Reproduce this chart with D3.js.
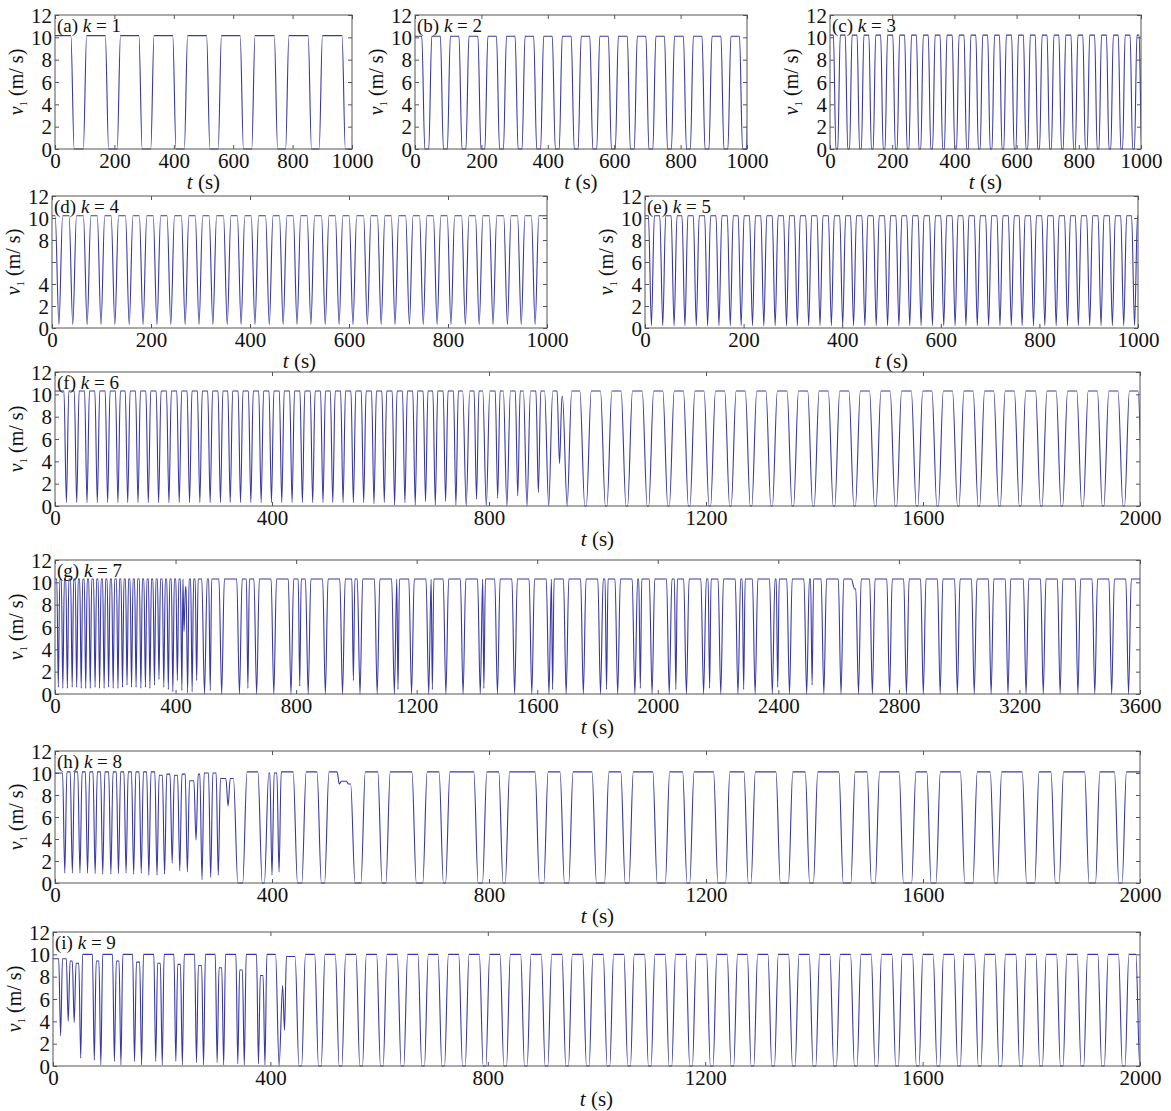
<!DOCTYPE html>
<html lang="en">
<head>
<meta charset="UTF-8">
<title>v1(t) for k = 1 ... 9</title>
<script src="https://d3js.org/d3.v7.min.js"></script>
<style>
  body { margin: 0; background: #fff; }
  svg text { font-family: "Liberation Serif", "Times New Roman", serif; fill: #111; }
</style>
</head>
<body>
<svg id="chart" width="1171" height="1111"></svg>
<script>
// tick values / labels
const yTicks = [0, 2, 4, 6, 8, 10, 12];
const yLabels = ["0", "2", "4", "6", "8", "10", "12"];
const yLabelsD = ["0", "2", "4", "", "8", "10", "12"];   // (d) has no "6"
const tTicks1000 = [0, 200, 400, 600, 800, 1000];
const tTicks2000 = [0, 400, 800, 1200, 1600, 2000];
const tTicks3600 = [0, 400, 800, 1200, 1600, 2000, 2400, 2800, 3200, 3600];

// each trough: [fall time, rise time, lowest v, v of the plateau after it]
// (fall == rise means a V shaped dip)
const troughsA = [[59,101,0],[175,215,0],[288,328,0],[402,441,0],[516,555,0],[629,668,0],[744,782,0],[858,895,0],[972,1010,0]];

const troughsB = [[25,46,0],[81,102,0],[137,158,0],[194,215,0],[250,271,0],[306,327,0],[362,383,0],[418,439,0],[475,496,0],
  [531,552,0],[587,608,0],[644,665,0],[700,721,0],[756,777,0],[813,834,0],[869,890,0],[926,947,0],[982,1003,0]];

const troughsC = [[15,29,0],[53,67,0],[91,105,0],[129,143,0],[167,181,0],[206,220,0],[244,258,0],[282,296,0],[320,334,0],
  [358,372,0],[397,411,0],[435,449,0],[473,487,0],[511,525,0],[549,563,0],[588,602,0],[626,640,0],[664,678,0],[702,716,0],
  [740,754,0],[779,793,0],[817,831,0],[855,869,0],[893,907,0],[931,945,0],[969,983,0],[998,1012,0]];

const troughsD = [14,42,71,99,127,156,184,212,240,269,297,325,354,382,410,439,467,495,523,552,580,608,637,665,693,722,
  750,778,806,835,863,891,920,948,976].map(t => [t, t, 0.3]);

const troughsE = [13,36,59,81,104,127,150,173,195,218,241,264,287,309,332,355,378,401,423,446,469,492,515,537,560,583,
  606,629,651,674,697,720,743,765,788,811,834,857,879,902,925,948,971,993].map(t => [t, t, 0.2]);

const troughsF = [[21,21,0.3],[40,40,0.3],[59,59,0.3],[78,78,0.3],[97,97,0.3],[116,116,0.3],[134,134,0.3],[153,153,0.3],
  [172,172,0.3],[191,191,0.3],[210,210,0.3],[229,229,0.3],[248,248,0.3],[267,267,0.3],[286,286,0.3],[305,305,0.3],
  [323,323,0.3],[342,342,0.3],[361,361,0.3],[380,380,0.3],[399,399,0.3],[418,418,0.3],[437,437,0.3],[456,456,0.3],
  [475,475,0.3],[494,494,0.3],[512,512,0.3],[531,531,0.3],[550,550,0.3],[569,569,0.3],[588,588,0.2],[607,607,0.3],
  [626,626,0.1],[645,645,0.3],[664,664,0.1],[683,683,0.4],[701,701,0.1],[720,720,0.4],[739,739,0.1],[756,760,0],
  [777,777,0.6],[793,797,0],[816,816,0.7],[831,835,0],[853,853,0.9],[868,872,0],[891,891,1.2],[907,913,0],
  [930,930,3.8,9.8],[940,948,0],[972,984,0],[1010,1022,0],[1048,1060,0],[1087,1099,0],[1125,1137,0],[1163,1175,0],
  [1201,1213,0],[1239,1251,0],[1277,1289,0],[1315,1327,0],[1354,1366,0],[1392,1404,0],[1430,1442,0],[1468,1480,0],
  [1506,1518,0],[1544,1556,0],[1583,1595,0],[1621,1633,0],[1659,1671,0],[1697,1709,0],[1735,1747,0],[1773,1785,0],
  [1812,1824,0],[1850,1862,0],[1888,1900,0],[1926,1938,0],[1964,1976,0],[2001,2014,0]];

const troughsG = [[11,11,0.6],[26,26,0.5],[41,41,0.5],[57,57,0.6],[72,72,0.6],[87,87,0.5],[102,102,0.5],[117,117,0.5],
  [133,133,0.6],[148,148,0.5],[163,163,0.5],[178,178,0.6],[193,193,0.5],[209,209,0.5],[224,224,0.6],[239,239,0.8],
  [254,254,0.6],[269,269,0.6],[285,285,0.5],[300,300,0.6],[315,315,0.5],[330,330,0.8],[345,345,1.3],[361,361,0.6],
  [376,376,0.4],[391,391,0.2],[406,406,1.2],[421,421,0.3],[428,428,5.6,9.6],[440,440,0.1],[455,455,0.2],[470,470,1.2],
  [492,500,0],[515,515,0.3],[549,557,0],[608,616,0],[640,640,0.5],[665,673,0],[722,730,0],[779,787,0],[812,812,0.7],
  [836,844,0],[893,901,0],[950,958,0],[990,990,1.2],[1008,1016,0],[1065,1073,0],[1122,1130,0],[1138,1138,0.4],
  [1179,1187,0],[1236,1244,0],[1252,1252,0.4],[1293,1301,0],[1350,1358,0],[1407,1415,0],[1423,1423,0.5],[1464,1472,0],
  [1521,1529,0],[1578,1586,0],[1635,1643,0],[1651,1651,0.4],[1692,1700,0],[1749,1757,0],[1806,1814,0],[1830,1830,0.4],
  [1863,1871,0],[1920,1928,0],[1942,1942,0.5],[1977,1985,0],[2034,2042,0],[2060,2060,0.4],[2091,2099,0],[2148,2156,0],
  [2172,2172,0.5],[2205,2213,0],[2262,2270,0],[2285,2285,0.4],[2319,2327,0],[2376,2384,0],[2398,2398,0.6],[2433,2441,0],
  [2490,2498,0],[2512,2512,0.8],[2547,2555,0],[2604,2612,0],[2648,2648,9.8,9.4],[2662,2670,0],[2708,2716,0],[2765,2773,0],
  [2821,2829,0],[2877,2885,0],[2933,2941,0],[2990,2998,0],[3046,3054,0],[3102,3110,0],[3158,3166,0],[3218,3226,0],
  [3275,3283,0],[3331,3339,0],[3390,3398,0],[3446,3454,0],[3502,3510,0],[3558,3566,0]];

const troughsH = [[18,18,0.9],[32,32,0.9],[46,46,0.9],[60,60,0.9],[74,74,0.85],[88,88,0.8],[103,103,0.8],[117,117,0.85],
  [131,131,0.9],[145,145,0.8],[159,159,0.9],[173,173,0.7],[188,188,0.7,9.8],[202,202,0.8,9.9],[216,216,1.8,9.8],
  [230,230,1.1,9.9],[244,244,1.0,9.3],[260,260,3.9,9.9],[271,271,0.3,10],[287,287,0.5,10],[301,301,0.7,9.5],
  [319,319,7.0,9.5],[333,350,0,10.1],[378,390,0,10],[400,400,0.7,10],[413,413,1.0,10.1],[443,459,0,10.1],
  [487,501,0,10.1],[524,524,9.0,9.25],[541,541,9.0,9.0],[549,568,0],[599,614,0],[662,682,0],[712,724,0],[776,792,0],
  [822,834,0],[889,905,0],[935,951,0],[994,1017,0],[1047,1062,0],[1106,1129,0],[1161,1174,0],[1218,1240,0],[1274,1287,0],
  [1333,1356,0],[1387,1402,0],[1449,1471,0],[1501,1516,0],[1560,1583,0],[1611,1628,0],[1673,1696,0],[1728,1741,0],
  [1787,1810,0],[1840,1855,0],[1902,1922,0],[1957,1971,0]];

const troughsI = [[14,14,2.7,9.6],[28,28,4.0,9.4],[39,39,3.9,9.2],[51,51,0.7],[76,76,0.5,9.4],[88,88,0.1],
  [113,113,0.4,9.4],[125,125,0.1],[150,150,0.4,9.3],[163,163,0.1],[189,189,0.4,9.2],[201,201,0.1],[226,226,0.4,9.1],
  [238,238,0.1],[264,264,0.3,9.0],[277,277,0.1],[302,302,0.3,8.8],[314,314,0.1],[340,340,0.2,8.6],[352,352,0.1],
  [378,378,0.2,8.1],[390,390,0.1],[413,419,0,7.2],[426,426,3.2,9.8],[449,461,0],[485,497,0],[523,535,0],[561,573,0],
  [599,611,0],[637,649,0],[675,687,0],[712,724,0],[750,762,0],[788,800,0],[826,838,0],[864,876,0],[902,914,0],
  [940,952,0],[978,990,0],[1016,1028,0],[1054,1066,0],[1092,1104,0],[1130,1142,0],[1168,1180,0],[1206,1218,0],
  [1244,1256,0],[1281,1293,0],[1319,1331,0],[1357,1369,0],[1395,1407,0],[1433,1445,0],[1471,1483,0],[1509,1521,0],
  [1547,1559,0],[1585,1597,0],[1623,1635,0],[1661,1673,0],[1699,1711,0],[1737,1749,0],[1775,1787,0],[1812,1824,0],
  [1850,1862,0],[1888,1900,0],[1926,1938,0],[1964,1976,0],[1996,2010,0]];

// layout: box = [left, top, right, bottom] of each plot area
const panels = [
  { id: "a", k: 1, tMax: 1000, ticks: tTicks1000, box: [55, 15, 352, 149], start: 10.15, hi: 10.15, edge: 5.5, troughs: troughsA },
  { id: "b", k: 2, tMax: 1000, ticks: tTicks1000, box: [415, 15, 747, 149], start: 10.1, hi: 10.1, edge: 4.5, troughs: troughsB },
  { id: "c", k: 3, tMax: 1000, ticks: tTicks1000, box: [830, 15, 1141, 149], start: 10.2, hi: 10.2, edge: 4, troughs: troughsC },
  { id: "d", k: 4, tMax: 1000, ticks: tTicks1000, box: [52, 196, 547, 328], start: 10.2, hi: 10.2, edge: 7.5, troughs: troughsD, yl: yLabelsD },
  { id: "e", k: 5, tMax: 1000, ticks: tTicks1000, box: [645, 196, 1138, 328], start: 10.2, hi: 10.2, edge: 6, troughs: troughsE },
  { id: "f", k: 6, tMax: 2000, ticks: tTicks2000, box: [55, 372, 1140, 506], start: 10.3, hi: 10.3, edge: 4.5, troughs: troughsF },
  { id: "g", k: 7, tMax: 3600, ticks: tTicks3600, box: [55, 560, 1140, 694], start: 10.3, hi: 10.3, edge: 5, troughs: troughsG },
  { id: "h", k: 8, tMax: 2000, ticks: tTicks2000, box: [55, 751, 1140, 883], start: 10.0, hi: 10.1, edge: 4, troughs: troughsH },
  { id: "i", k: 9, tMax: 2000, ticks: tTicks2000, box: [53, 932, 1140, 1066], start: 9.6, hi: 10.0, edge: 3.5, troughs: troughsI }
];

// turn the trough list into knots of a monotone curve
function buildKnots(p) {
  const e = p.edge;
  const pts = [[0, p.start]];
  let h = p.start;
  p.troughs.forEach(([f, r, lo, hn]) => {
    const hNext = hn !== undefined ? hn : p.hi;
    const a = f - e;
    const last = pts[pts.length - 1];
    if (a <= last[0]) {
      if (pts.length > 1) last[0] = (last[0] + a) / 2;
    } else {
      pts.push([a, h]);
    }
    if (r - f >= 2 * e) pts.push([f + e, lo], [r - e, lo]);
    else pts.push([(f + r) / 2, lo]);
    pts.push([r + e, hNext]);
    h = hNext;
  });
  pts.push([p.tMax * 1.1, h]);
  return pts;
}

const svg = d3.select("#chart");

panels.forEach(p => {
  const [x0, y0, x1, y1] = p.box;
  const x = d3.scaleLinear().domain([0, p.tMax]).range([x0, x1]);
  const y = d3.scaleLinear().domain([0, 12]).range([y1, y0]);
  const g = svg.append("g");

  g.append("clipPath").attr("id", "clip-" + p.id)
    .append("rect").attr("x", x0).attr("y", y0 - 2).attr("width", x1 - x0).attr("height", y1 - y0 + 3);

  const line = d3.line().x(d => x(d[0])).y(d => y(d[1])).curve(d3.curveMonotoneX);
  g.append("path")
    .datum(buildKnots(p))
    .attr("clip-path", `url(#clip-${p.id})`)
    .attr("fill", "none")
    .attr("stroke", "#3838a8")
    .attr("stroke-width", 1.1)
    .attr("d", line);

  const labels = p.yl || yLabels;

  const bottom = g.append("g").attr("transform", `translate(0,${y1})`)
    .call(d3.axisBottom(x).tickValues(p.ticks).tickSize(-4).tickPadding(4).tickFormat(d3.format("d")));
  const left = g.append("g").attr("transform", `translate(${x0},0)`)
    .call(d3.axisLeft(y).tickValues(yTicks).tickSize(-4).tickPadding(3).tickFormat((d, i) => labels[i]));
  const top = g.append("g").attr("transform", `translate(0,${y0})`)
    .call(d3.axisTop(x).tickValues(p.ticks).tickSize(-4).tickFormat(""));
  const right = g.append("g").attr("transform", `translate(${x1},0)`)
    .call(d3.axisRight(y).tickValues(yTicks).tickSize(-4).tickFormat(""));

  [bottom, left, top, right].forEach(a => {
    a.select(".domain").remove();
    a.selectAll(".tick line").attr("stroke", "#555");
    a.selectAll("text").attr("font-size", 21).attr("fill", "#111")
      .attr("font-family", "'Liberation Serif', 'Times New Roman', serif");
  });
  left.selectAll("text").attr("dy", "0.34em");

  g.append("rect").attr("x", x0).attr("y", y0).attr("width", x1 - x0).attr("height", y1 - y0)
    .attr("fill", "none").attr("stroke", "#555").attr("stroke-width", 1);

  // panel label
  const lab = g.append("text").attr("x", x0 + 2).attr("y", y0 + 17).attr("font-size", 19);
  lab.append("tspan").text(`(${p.id}) `);
  lab.append("tspan").attr("font-style", "italic").text("k");
  lab.append("tspan").text(` = ${p.k}`);

  // x label
  const xl = g.append("text").attr("x", (x0 + x1) / 2).attr("y", y1 + 40)
    .attr("text-anchor", "middle").attr("font-size", 21);
  xl.append("tspan").attr("font-style", "italic").text("t");
  xl.append("tspan").text(" (s)");

  // y label
  const yl = g.append("text")
    .attr("transform", `translate(${x0 - 32},${(y0 + y1) / 2}) rotate(-90)`)
    .attr("text-anchor", "middle").attr("font-size", 20);
  yl.append("tspan").attr("font-style", "italic").text("v");
  yl.append("tspan").attr("font-size", 11).attr("dy", 4).text("1");
  yl.append("tspan").attr("dy", -4).text(" (m/ s)");
});
</script>
</body>
</html>
